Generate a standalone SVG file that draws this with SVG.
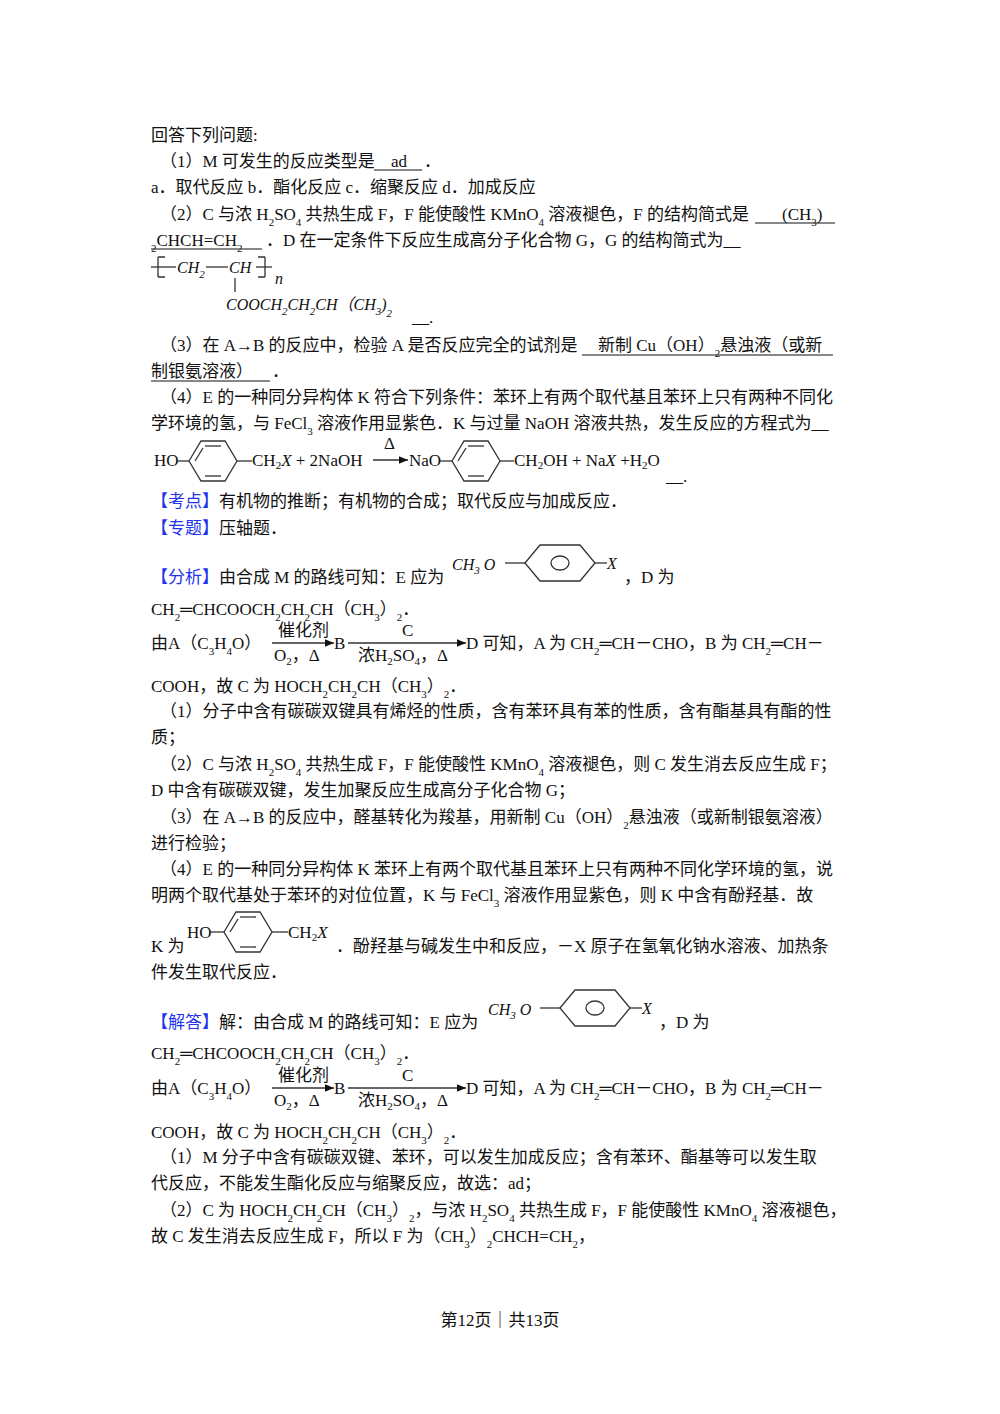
<svg xmlns="http://www.w3.org/2000/svg" width="1000" height="1414" viewBox="0 0 1000 1414">
<style>
text{font-family:"Liberation Serif","Noto Sans CJK SC",serif;font-size:17px;fill:#111}
.b{fill:#2233ee}
.i{font-style:italic;font-size:16px}
.s{font-size:11px}
.r{fill:none;stroke:#333;stroke-width:1.3}
.u{stroke:#111;stroke-width:1}
</style>
<defs>
<g id="kek"><polygon class="r" points="-24,0 -12,-20 12,-20 24,0 12,20 -12,20"/><line class="r" x1="-8" y1="-15" x2="8" y2="-15"/><line class="r" x1="-8" y1="15" x2="8" y2="15"/><line class="r" x1="-18" y1="0" x2="-10" y2="-13"/></g>
<g id="aro"><polygon class="r" points="-35,0 -20,-18 20,-18 35,0 20,18 -20,18"/><ellipse class="r" cx="0" cy="0" rx="9" ry="7"/></g>
<marker id="ah" markerWidth="8" markerHeight="8" refX="7" refY="4" orient="auto"><path d="M0,1 L7,4 L0,7z" fill="#111"/></marker>
</defs>
<rect width="1000" height="1414" fill="#fff"/>
<text x="151" y="141">回答下列问题:</text>
<text x="160" y="167">（1）M 可发生的反应类型是</text>
<text x="391" y="167">ad</text>
<text x="424" y="167">．</text>
<line class="u" x1="374" y1="170" x2="422" y2="170"/>
<text x="151" y="193">a．取代反应  b．酯化反应  c．缩聚反应  d．加成反应</text>
<text x="160" y="220">（2）C 与浓 H<tspan class="s" baseline-shift="sub">2</tspan>SO<tspan class="s" baseline-shift="sub">4</tspan> 共热生成 F，F 能使酸性 KMnO<tspan class="s" baseline-shift="sub">4</tspan> 溶液褪色，F 的结构简式是</text>
<text x="782" y="220">(CH<tspan class="s" baseline-shift="sub">3</tspan>)</text>
<line class="u" x1="755" y1="223" x2="835" y2="223"/>
<text x="151" y="246"><tspan class="s" baseline-shift="sub">2</tspan>CHCH=CH<tspan class="s" baseline-shift="sub">2</tspan></text>
<text x="266" y="246">．D 在一定条件下反应生成高分子化合物 G，G 的结构简式为__</text>
<line class="u" x1="151" y1="249" x2="262" y2="249"/>
<g id="polymer">
<path class="r" d="M158,257 L158,277 M158,257 L165,257 M158,277 L165,277 M265,257 L265,277 M258,257 L265,257 M258,277 L265,277"/>
<line class="r" x1="151" y1="267" x2="176" y2="267"/>
<line class="r" x1="206" y1="267" x2="228" y2="267"/>
<line class="r" x1="256" y1="267" x2="272" y2="267"/>
<line class="r" x1="235" y1="278" x2="235" y2="292"/>
<text x="177" y="273" class="i">CH<tspan class="s" dy="5">2</tspan></text>
<text x="229" y="273" class="i">CH</text>
<text x="275" y="284" class="i" font-size="13">n</text>
<text x="226" y="310" class="i">COOCH<tspan class="s" dy="5">2</tspan><tspan dy="-5">CH</tspan><tspan class="s" dy="5">2</tspan><tspan dy="-5">CH（CH</tspan><tspan class="s" dy="5">3</tspan><tspan dy="-5">)</tspan><tspan class="s" dy="7">2</tspan></text>
<text x="412" y="323">__.</text>
</g>
<text x="160" y="351">（3）在 A→B 的反应中，检验 A 是否反应完全的试剂是</text>
<text x="598" y="351">新制 Cu（OH）<tspan class="s" baseline-shift="sub">2</tspan>悬浊液（或新</text>
<line class="u" x1="582" y1="355" x2="833" y2="355"/>
<text x="151" y="377">制银氨溶液）</text>
<text x="272" y="377">．</text>
<line class="u" x1="151" y1="381" x2="270" y2="381"/>
<text x="160" y="403">（4）E 的一种同分异构体 K 符合下列条件：苯环上有两个取代基且苯环上只有两种不同化</text>
<text x="151" y="429">学环境的氢，与 FeCl<tspan class="s" baseline-shift="sub">3</tspan> 溶液作用显紫色．K 与过量 NaOH 溶液共热，发生反应的方程式为__</text>
<g id="equation">
<text x="154" y="466" font-size="15">HO</text>
<line class="r" x1="176" y1="461" x2="189" y2="461"/>
<use href="#kek" x="213" y="461"/>
<line class="r" x1="237" y1="461" x2="252" y2="461"/>
<text x="252" y="466" font-size="15">CH<tspan class="s" dy="3">2</tspan><tspan dy="-3" font-style="italic">X</tspan> + 2NaOH</text>
<line class="r" x1="373" y1="460" x2="408" y2="460" marker-end="url(#ah)"/>
<text x="384" y="449" font-size="13">Δ</text>
<text x="409" y="466" font-size="15">NaO</text>
<line class="r" x1="440" y1="461" x2="452" y2="461"/>
<use href="#kek" x="476" y="461"/>
<line class="r" x1="500" y1="461" x2="514" y2="461"/>
<text x="514" y="466" font-size="15">CH<tspan class="s" dy="3">2</tspan><tspan dy="-3">OH + Na</tspan><tspan font-style="italic">X</tspan> +H<tspan class="s" dy="3">2</tspan><tspan dy="-3">O</tspan></text>
<text x="666" y="482">__.</text>
</g>
<text x="151" y="507"><tspan class="b">【考点】</tspan>有机物的推断；有机物的合成；取代反应与加成反应．</text>
<text x="151" y="534"><tspan class="b">【专题】</tspan>压轴题．</text>
<text x="151" y="583"><tspan class="b">【分析】</tspan>由合成 M 的路线可知：E 应为</text>
<g id="E1">
<text x="452" y="570" class="i">CH<tspan class="s" dy="4">3</tspan><tspan dy="-4"> O</tspan></text>
<line class="r" x1="505" y1="563" x2="525" y2="563"/>
<use href="#aro" x="560" y="563"/>
<line class="r" x1="595" y1="563" x2="607" y2="563"/>
<text x="607" y="569" class="i">X</text>
</g>
<text x="624" y="583">，D 为</text>
<text x="151" y="615">CH<tspan class="s" baseline-shift="sub">2</tspan>═CHCOOCH<tspan class="s" baseline-shift="sub">2</tspan>CH<tspan class="s" baseline-shift="sub">2</tspan>CH（CH<tspan class="s" baseline-shift="sub">3</tspan>）<tspan class="s" baseline-shift="sub">2</tspan>．</text>
<g id="route1">
<text x="151" y="649">由A（C<tspan class="s" baseline-shift="sub">3</tspan>H<tspan class="s" baseline-shift="sub">4</tspan>O）</text>
<line class="r" x1="272" y1="643" x2="334" y2="643" marker-end="url(#ah)"/>
<text x="278" y="636" font-size="15">催化剂</text>
<text x="274" y="661" font-size="14">O<tspan class="s" dy="4">2</tspan><tspan dy="-4">，Δ</tspan></text>
<text x="334" y="649">B</text>
<line class="r" x1="348" y1="643" x2="466" y2="643" marker-end="url(#ah)"/>
<text x="402" y="636" font-size="14">C</text>
<text x="358" y="661" font-size="14">浓H<tspan class="s" dy="4">2</tspan><tspan dy="-4">SO</tspan><tspan class="s" dy="4">4</tspan><tspan dy="-4">，Δ</tspan></text>
<text x="466" y="649">D 可知，A 为 CH<tspan class="s" baseline-shift="sub">2</tspan>═CH－CHO，B 为 CH<tspan class="s" baseline-shift="sub">2</tspan>═CH－</text>
</g>
<text x="151" y="692">COOH，故 C 为 HOCH<tspan class="s" baseline-shift="sub">2</tspan>CH<tspan class="s" baseline-shift="sub">2</tspan>CH（CH<tspan class="s" baseline-shift="sub">3</tspan>）<tspan class="s" baseline-shift="sub">2</tspan>．</text>
<text x="160" y="717">（1）分子中含有碳碳双键具有烯烃的性质，含有苯环具有苯的性质，含有酯基具有酯的性</text>
<text x="151" y="743">质；</text>
<text x="160" y="770">（2）C 与浓 H<tspan class="s" baseline-shift="sub">2</tspan>SO<tspan class="s" baseline-shift="sub">4</tspan> 共热生成 F，F 能使酸性 KMnO<tspan class="s" baseline-shift="sub">4</tspan> 溶液褪色，则 C 发生消去反应生成 F；</text>
<text x="151" y="796">D 中含有碳碳双键，发生加聚反应生成高分子化合物 G；</text>
<text x="160" y="823">（3）在 A→B 的反应中，醛基转化为羧基，用新制 Cu（OH）<tspan class="s" baseline-shift="sub">2</tspan>悬浊液（或新制银氨溶液）</text>
<text x="151" y="849">进行检验；</text>
<text x="160" y="875">（4）E 的一种同分异构体 K 苯环上有两个取代基且苯环上只有两种不同化学环境的氢，说</text>
<text x="151" y="901">明两个取代基处于苯环的对位位置，K 与 FeCl<tspan class="s" baseline-shift="sub">3</tspan> 溶液作用显紫色，则 K 中含有酚羟基．故</text>
<g id="K">
<text x="151" y="952">K 为</text>
<text x="187" y="938" font-size="15">HO</text>
<line class="r" x1="209" y1="932" x2="224" y2="932"/>
<use href="#kek" x="248" y="932"/>
<line class="r" x1="272" y1="932" x2="288" y2="932"/>
<text x="288" y="938" font-size="15">CH<tspan class="s" dy="3">2</tspan><tspan dy="-3" font-style="italic">X</tspan></text>
<text x="336" y="952">．酚羟基与碱发生中和反应，－X 原子在氢氧化钠水溶液、加热条</text>
</g>
<text x="151" y="978">件发生取代反应．</text>
<text x="151" y="1028"><tspan class="b">【解答】</tspan>解：由合成 M 的路线可知：E 应为</text>
<g id="E2">
<text x="488" y="1015" class="i">CH<tspan class="s" dy="4">3</tspan><tspan dy="-4"> O</tspan></text>
<line class="r" x1="540" y1="1008" x2="560" y2="1008"/>
<use href="#aro" x="595" y="1008"/>
<line class="r" x1="630" y1="1008" x2="642" y2="1008"/>
<text x="642" y="1014" class="i">X</text>
</g>
<text x="659" y="1028">，D 为</text>
<text x="151" y="1059">CH<tspan class="s" baseline-shift="sub">2</tspan>═CHCOOCH<tspan class="s" baseline-shift="sub">2</tspan>CH<tspan class="s" baseline-shift="sub">2</tspan>CH（CH<tspan class="s" baseline-shift="sub">3</tspan>）<tspan class="s" baseline-shift="sub">2</tspan>．</text>
<g id="route2">
<text x="151" y="1094">由A（C<tspan class="s" baseline-shift="sub">3</tspan>H<tspan class="s" baseline-shift="sub">4</tspan>O）</text>
<line class="r" x1="272" y1="1088" x2="334" y2="1088" marker-end="url(#ah)"/>
<text x="278" y="1081" font-size="15">催化剂</text>
<text x="274" y="1106" font-size="14">O<tspan class="s" dy="4">2</tspan><tspan dy="-4">，Δ</tspan></text>
<text x="334" y="1094">B</text>
<line class="r" x1="348" y1="1088" x2="466" y2="1088" marker-end="url(#ah)"/>
<text x="402" y="1081" font-size="14">C</text>
<text x="358" y="1106" font-size="14">浓H<tspan class="s" dy="4">2</tspan><tspan dy="-4">SO</tspan><tspan class="s" dy="4">4</tspan><tspan dy="-4">，Δ</tspan></text>
<text x="466" y="1094">D 可知，A 为 CH<tspan class="s" baseline-shift="sub">2</tspan>═CH－CHO，B 为 CH<tspan class="s" baseline-shift="sub">2</tspan>═CH－</text>
</g>
<text x="151" y="1138">COOH，故 C 为 HOCH<tspan class="s" baseline-shift="sub">2</tspan>CH<tspan class="s" baseline-shift="sub">2</tspan>CH（CH<tspan class="s" baseline-shift="sub">3</tspan>）<tspan class="s" baseline-shift="sub">2</tspan>．</text>
<text x="160" y="1163">（1）M 分子中含有碳碳双键、苯环，可以发生加成反应；含有苯环、酯基等可以发生取</text>
<text x="151" y="1189">代反应，不能发生酯化反应与缩聚反应，故选：ad；</text>
<text x="160" y="1216">（2）C 为 HOCH<tspan class="s" baseline-shift="sub">2</tspan>CH<tspan class="s" baseline-shift="sub">2</tspan>CH（CH<tspan class="s" baseline-shift="sub">3</tspan>）<tspan class="s" baseline-shift="sub">2</tspan>，与浓 H<tspan class="s" baseline-shift="sub">2</tspan>SO<tspan class="s" baseline-shift="sub">4</tspan> 共热生成 F，F 能使酸性 KMnO<tspan class="s" baseline-shift="sub">4</tspan> 溶液褪色，</text>
<text x="151" y="1242">故 C 发生消去反应生成 F，所以 F 为（CH<tspan class="s" baseline-shift="sub">3</tspan>）<tspan class="s" baseline-shift="sub">2</tspan>CHCH=CH<tspan class="s" baseline-shift="sub">2</tspan>，</text>
<text x="500" y="1326" text-anchor="middle">第12页｜共13页</text>
</svg>
